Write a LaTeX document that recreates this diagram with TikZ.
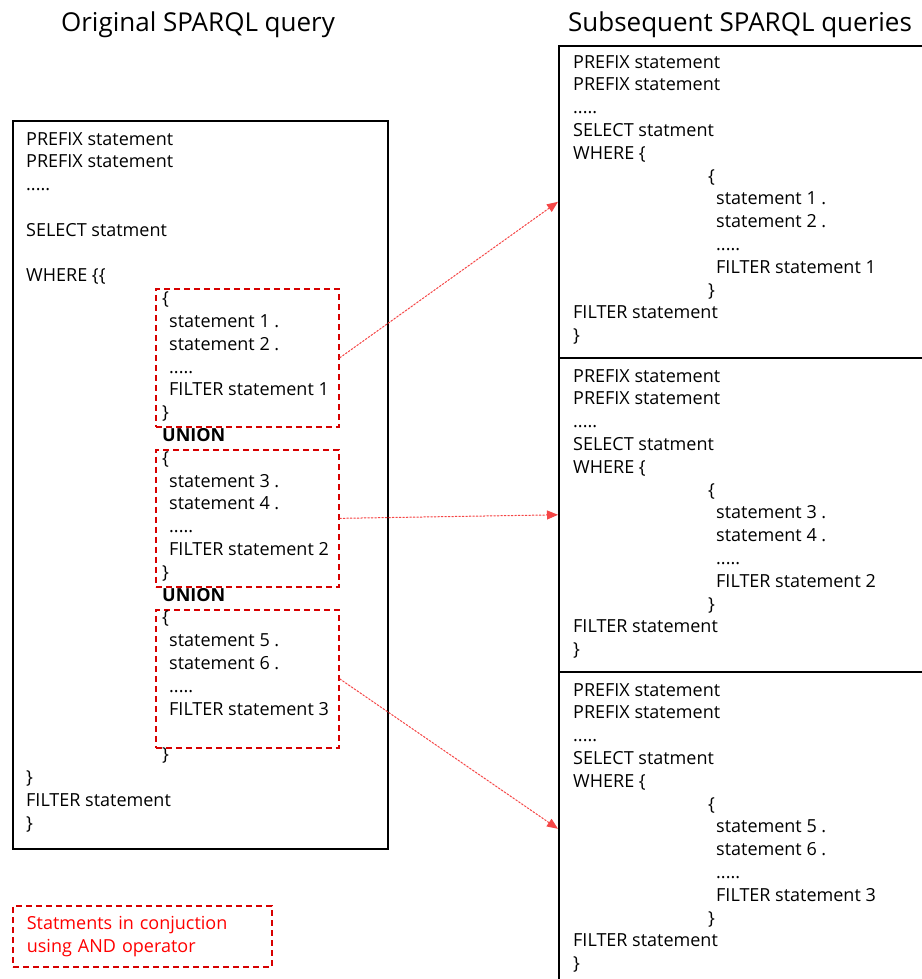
\documentclass[tikz,border=0pt]{standalone}
\usepackage{fontspec}
\setmainfont{Open Sans}
\usetikzlibrary{arrows.meta,positioning}

\definecolor{grpred}{RGB}{215,0,0}
\definecolor{linkred}{RGB}{245,70,70}

\begin{document}
\begin{tikzpicture}[x=1pt, y=-1pt, >={Triangle[length=11pt,width=9pt]},
    qbox/.style={draw, line width=1.6pt, rectangle, anchor=north west, inner sep=0pt},
    grpbox/.style={draw=grpred, dash pattern=on 6pt off 4pt, line width=1.7pt, anchor=north west, inner sep=0pt, minimum width=183pt},
    qtext/.style={anchor=north west, align=left, inner sep=0pt, font=\fontsize{18}{22.8}\selectfont},
    title/.style={anchor=base, font=\fontsize{26}{30}\selectfont},
    link/.style={->, draw=linkred, fill=linkred, dash pattern=on 2pt off 1.5pt, line width=1pt}]
    \useasboundingbox (0,0) rectangle (921,979);

    % Titles
    \node [title] (origtitle) at (198,32) {Original SPARQL query};
    \node [title] (subtitle)  at (740,32) {Subsequent SPARQL queries};

    % Boxes
    \node [qbox, minimum width=375pt, minimum height=728pt] (orig) at (12,120)  {};
    \node [qbox, minimum width=400pt, minimum height=312pt] (sub1) at (558,45)  {};
    \node [qbox, minimum width=400pt, minimum height=314pt] (sub2) at (558,357) {};
    \node [qbox, minimum width=400pt, minimum height=314pt] (sub3) at (558,671) {};

    % Groups joined by UNION
    \node [grpbox, minimum height=138pt] (grp1) at (155,288) {};
    \node [grpbox, minimum height=137pt] (grp2) at (155,449) {};
    \node [grpbox, minimum height=138pt] (grp3) at (155,609) {};

    % Original query
    \node [qtext] (origtext) at (26,129) {\strut PREFIX statement\\
        PREFIX statement\\
        .....\\
        \mbox{}\\
        SELECT statment\\
        \mbox{}\\
        WHERE \{\{\\
        \hspace*{136pt}\{\\
        \hspace*{143pt}statement 1 .\\
        \hspace*{143pt}statement 2 .\\
        \hspace*{143pt}.....\\
        \hspace*{143pt}FILTER statement 1\\
        \hspace*{136pt}\}\\
        \hspace*{136pt}\textbf{UNION}\\
        \hspace*{136pt}\{\\
        \hspace*{143pt}statement 3 .\\
        \hspace*{143pt}statement 4 .\\
        \hspace*{143pt}.....\\
        \hspace*{143pt}FILTER statement 2\\
        \hspace*{136pt}\}\\
        \hspace*{136pt}\textbf{UNION}\\
        \hspace*{136pt}\{\\
        \hspace*{143pt}statement 5 .\\
        \hspace*{143pt}statement 6 .\\
        \hspace*{143pt}.....\\
        \hspace*{143pt}FILTER statement 3\\
        \mbox{}\\
        \hspace*{136pt}\}\\
        \}\\
        FILTER statement\\
        \}};

    % Subsequent queries
    \node [qtext] (sub1text) at (573,52) {\strut PREFIX statement\\
        PREFIX statement\\
        .....\\
        SELECT statment\\
        WHERE \{\\
        \hspace*{135pt}\{\\
        \hspace*{143pt}statement 1 .\\
        \hspace*{143pt}statement 2 .\\
        \hspace*{143pt}.....\\
        \hspace*{143pt}FILTER statement 1\\
        \hspace*{135pt}\}\\
        FILTER statement\\
        \}};
    \node [qtext] (sub2text) at (573,366) {\strut PREFIX statement\\
        PREFIX statement\\
        .....\\
        SELECT statment\\
        WHERE \{\\
        \hspace*{135pt}\{\\
        \hspace*{143pt}statement 3 .\\
        \hspace*{143pt}statement 4 .\\
        \hspace*{143pt}.....\\
        \hspace*{143pt}FILTER statement 2\\
        \hspace*{135pt}\}\\
        FILTER statement\\
        \}};
    \node [qtext] (sub3text) at (573,680) {\strut PREFIX statement\\
        PREFIX statement\\
        .....\\
        SELECT statment\\
        WHERE \{\\
        \hspace*{135pt}\{\\
        \hspace*{143pt}statement 5 .\\
        \hspace*{143pt}statement 6 .\\
        \hspace*{143pt}.....\\
        \hspace*{143pt}FILTER statement 3\\
        \hspace*{135pt}\}\\
        FILTER statement\\
        \}};

    % Legend
    \node [grpbox, minimum width=259pt, minimum height=61pt, text width=231pt, inner xsep=14pt,
        align=left, text=red, font=\fontsize{18}{23}\selectfont] (legend) at (12,905)
        {Statments in conjuction\\using AND operator};

    % Links
    \draw [link] (grp1.east) -- (sub1.west);
    \draw [link] (grp2.east) -- (sub2.west);
    \draw [link] (grp3.east) -- (sub3.west);
\end{tikzpicture}
\end{document}
